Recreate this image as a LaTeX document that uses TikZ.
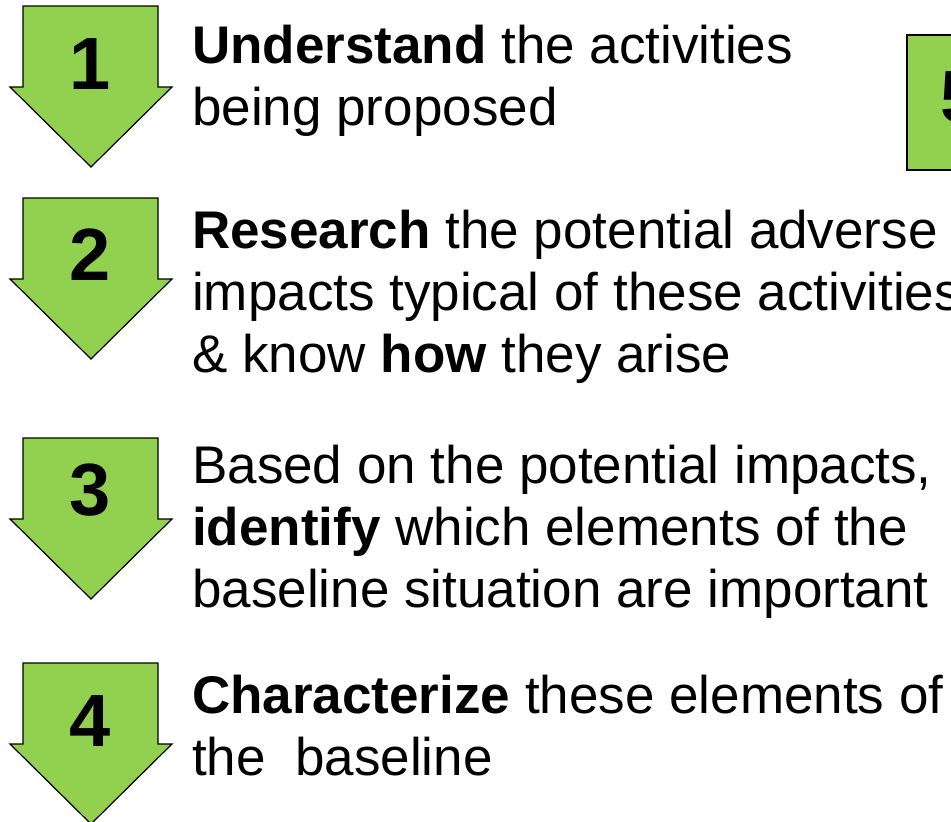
\documentclass[tikz,border=0pt]{standalone}
\usepackage{fontspec}
\setmainfont{Liberation Sans}
\definecolor{arrgreen}{HTML}{92D050}
\begin{document}
\begin{tikzpicture}[x=1pt,y=-1pt,
  arrowshape/.style={fill=arrgreen,draw=black,line width=1.2pt,line join=miter},
  boxshape/.style={fill=arrgreen,draw=black,line width=1.6pt},
  numlabel/.style={font=\fontsize{74}{80}\selectfont\bfseries,inner sep=0pt,anchor=base},
  steptext/.style={font=\fontsize{53}{62}\selectfont,inner sep=0pt,anchor=base west}]
\useasboundingbox (0,0) rectangle (951,822);
\clip (0,0) rectangle (951,822);
\foreach \t in {6,198,438,663} {
  \draw[arrowshape] (23,\t) -- (158,\t) -- (158,\t+81) -- (172,\t+81) -- (91,\t+161) -- (10,\t+81) -- (23,\t+81) -- cycle;
}
\draw[boxshape] (907,35) rectangle (1010,170);
\node[numlabel] (n1) at (90,89) {1};
\node[numlabel] (n2) at (90,280) {2};
\node[numlabel] (n3) at (90,515) {3};
\node[numlabel] (n4) at (90,746) {4};
\node[numlabel,anchor=base west] (n5) at (940,122) {5};
\node[steptext] (t1) at (192,63) {\begin{tabular}[t]{@{}l@{}}\textbf{Understand} the activities\\ being proposed\end{tabular}};
\node[steptext] (t2) at (192,248) {\begin{tabular}[t]{@{}l@{}}\textbf{Research} the potential adverse\\ impacts typical of these activities\\ \& know \textbf{how} they arise\end{tabular}};
\node[steptext] (t3) at (192,483) {\begin{tabular}[t]{@{}l@{}}Based on the potential impacts,\\ \textbf{identify} which elements of the\\ baseline situation are important\end{tabular}};
\node[steptext] (t4) at (192,713) {\begin{tabular}[t]{@{}l@{}}\textbf{Characterize} these elements of\\ the\ \ baseline\end{tabular}};
\end{tikzpicture}
\end{document}
